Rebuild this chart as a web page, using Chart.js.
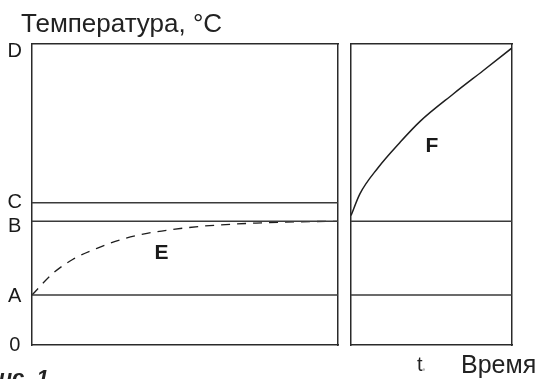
<!DOCTYPE html>
<html>
<head>
<meta charset="utf-8">
<script src="https://cdn.jsdelivr.net/npm/chart.js@4.4.1/dist/chart.umd.min.js"></script>
<style>
  body { margin: 0; background: #fff; }
  #wrap { position: relative; width: 540px; height: 379px; overflow: hidden; font-family: "Liberation Sans", Arial, sans-serif; color: #222; }
  canvas { position: absolute; top: 0; }
  .txt { position: absolute; line-height: 1; white-space: nowrap; }
</style>
</head>
<body>
<div id="wrap">
  <canvas id="left" width="345" height="379" style="left:0"></canvas>
  <canvas id="right" width="195" height="379" style="left:345px"></canvas>
  <div class="txt" style="left:21px; top:10px; font-size:26px;">Температура, °C</div>
  <div class="txt" style="left:417px; top:354px; font-size:20px;">t<span style="font-size:5px; color:#888;">е</span></div>
  <div class="txt" style="left:461px; top:352px; font-size:25px;">Время</div>
  <div class="txt" style="left:-16px; top:367px; font-size:22px; font-weight:bold; font-style:italic;">Рис. 1</div>
</div>
<script>
// уровни температуры (подписи оси)
const levelNames = ['0', 'A', 'B', 'C', 'D'];
const levelLabelPos = [0, 16.2, 39.4, 47.4, 97.4];
const levelA = 16.6;
const levelB = 41.1;
const levelC = 47.3;

// кривая E (пунктир, левая панель)
const timeE = [0, 6.5, 13.4, 21.2, 29.4, 37.6, 46.1, 54.9, 64.7, 73.2, 81.7, 90.8, 100];
const tempE = [16.6, 23.5, 28.5, 32.1, 35.1, 37.1, 38.4, 39.4, 40.1, 40.5, 40.8, 41.0, 41.1];

// кривая F (правая панель)
const timeF = [0, 5.6, 16.8, 30.4, 42.9, 63.5, 82.2, 99.8];
const tempF = [43, 50.3, 58.9, 67.3, 74.3, 83.4, 91.2, 98.6];

// подписи кривых
const curveLabelsLeft = [{ text: 'E', x: 42.3, y: 30.6 }];
const curveLabelsRight = [{ text: 'F', x: 50.3, y: 66.2 }];

const lineColor = '#3a3a3a';
const boxColor = '#2a2a2a';

function hLine(level) {
    return {
        data: [{ x: 0, y: level }, { x: 100, y: level }],
        borderColor: lineColor,
        borderWidth: 1.5,
        pointRadius: 0
    };
}

function toPoints(xs, ys) {
    return xs.map((x, i) => ({ x: x, y: ys[i] }));
}

const curveLabelPlugin = {
    id: 'curveLabels',
    afterDatasetsDraw(chart, args, opts) {
        const ctx = chart.ctx;
        ctx.save();
        ctx.fillStyle = '#1a1a1a';
        ctx.font = 'bold 21px "Liberation Sans", Arial, sans-serif';
        ctx.textAlign = 'center';
        ctx.textBaseline = 'middle';
        (opts.items || []).forEach(l => {
            ctx.fillText(l.text, chart.scales.x.getPixelForValue(l.x), chart.scales.y.getPixelForValue(l.y));
        });
        ctx.restore();
    }
};

function hiddenAxis(position, axis) {
    return {
        type: 'linear',
        axis: axis,
        position: position,
        min: 0,
        max: 100,
        ticks: { display: false },
        grid: { display: false, drawTicks: false },
        border: { display: true, color: boxColor, width: 1.5 },
        afterFit: s => { if (axis === 'x') s.height = 0; else s.width = 0; }
    };
}

function makeScales(showLabels) {
    const y = hiddenAxis('left', 'y');
    if (showLabels) {
        y.ticks = {
            display: true,
            autoSkip: false,
            padding: 10,
            crossAlign: 'center',
            color: '#1a1a1a',
            font: { family: '"Liberation Sans", Arial, sans-serif', size: 20 },
            callback: (v, i) => levelNames[i]
        };
        y.afterBuildTicks = s => { s.ticks = levelLabelPos.map(v => ({ value: v })); };
        y.afterFit = s => { s.width = 32; };
    }
    return {
        x: hiddenAxis('bottom', 'x'),
        x2: hiddenAxis('top', 'x'),
        y: y,
        y2: hiddenAxis('right', 'y')
    };
}

new Chart(document.getElementById('left'), {
    type: 'line',
    data: {
        datasets: [
            hLine(levelA),
            hLine(levelB),
            hLine(levelC),
            {
                data: toPoints(timeE, tempE),
                borderColor: '#1e1e1e',
                borderWidth: 1.3,
                borderDash: [9, 7],
                pointRadius: 0,
                cubicInterpolationMode: 'monotone'
            }
        ]
    },
    options: {
        responsive: false,
        animation: false,
        devicePixelRatio: 1,
        layout: { padding: { top: 44, bottom: 34, left: 0, right: 7 } },
        plugins: { legend: { display: false }, tooltip: { enabled: false }, curveLabels: { items: curveLabelsLeft } },
        scales: makeScales(true)
    },
    plugins: [curveLabelPlugin]
});

new Chart(document.getElementById('right'), {
    type: 'line',
    data: {
        datasets: [
            hLine(levelA),
            hLine(levelB),
            {
                data: toPoints(timeF, tempF),
                borderColor: '#1e1e1e',
                borderWidth: 1.5,
                pointRadius: 0,
                cubicInterpolationMode: 'monotone'
            }
        ]
    },
    options: {
        responsive: false,
        animation: false,
        devicePixelRatio: 1,
        layout: { padding: { top: 44, bottom: 34, left: 6, right: 28 } },
        plugins: { legend: { display: false }, tooltip: { enabled: false }, curveLabels: { items: curveLabelsRight } },
        scales: makeScales(false)
    },
    plugins: [curveLabelPlugin]
});
</script>
</body>
</html>
